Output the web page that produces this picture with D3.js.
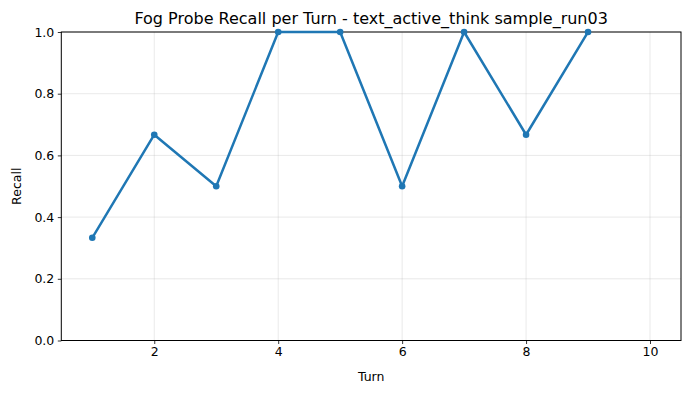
<!DOCTYPE html>
<html>
<head>
<meta charset="utf-8">
<script src="https://cdn.jsdelivr.net/npm/d3@7"></script>
<style>
  body { margin: 0; background: #fff; }
  svg text { font-family: "DejaVu Sans", sans-serif; fill: #000; }
</style>
</head>
<body>
<svg id="chart"></svg>
<script>
// data
const turns = [1, 2, 3, 4, 5, 6, 7, 8, 9];
const recall = [0.333, 0.667, 0.5, 1.0, 1.0, 0.5, 1.0, 0.667, 1.0];
const xTicks = [2, 4, 6, 8, 10];
const yTicks = [0, 0.2, 0.4, 0.6, 0.8, 1.0];

const width = 691, height = 393;
const margin = { top: 32, right: 10, bottom: 52.5, left: 61.3 };
const innerW = width - margin.left - margin.right;
const innerH = height - margin.top - margin.bottom;

const svg = d3.select('#chart').attr('width', width).attr('height', height);
const g = svg.append('g').attr('transform', `translate(${margin.left},${margin.top})`);

const x = d3.scaleLinear().domain([0.5, 10.5]).range([0, innerW]);
const y = d3.scaleLinear().domain([0, 1]).range([innerH, 0]);

// grid
g.append('g').selectAll('line').data(xTicks).join('line')
  .attr('x1', d => x(d)).attr('x2', d => x(d))
  .attr('y1', 0).attr('y2', innerH)
  .attr('stroke', '#b0b0b0').attr('stroke-opacity', 0.35).attr('stroke-width', 0.8);
g.append('g').selectAll('line').data(yTicks).join('line')
  .attr('x1', 0).attr('x2', innerW)
  .attr('y1', d => y(d)).attr('y2', d => y(d))
  .attr('stroke', '#b0b0b0').attr('stroke-opacity', 0.35).attr('stroke-width', 0.8);

// axes
const xAxis = g.append('g').attr('transform', `translate(0,${innerH})`)
  .call(d3.axisBottom(x).tickValues(xTicks).tickSize(3.5).tickPadding(3.5).tickFormat(d3.format('d')));
const yAxis = g.append('g')
  .call(d3.axisLeft(y).tickValues(yTicks).tickSize(3.5).tickPadding(3.5).tickFormat(d3.format('.1f')));
[xAxis, yAxis].forEach(a => {
  a.select('.domain').remove();
  a.selectAll('line').attr('stroke', '#000').attr('stroke-width', 0.8);
  a.selectAll('text').style('font-size', '12.5px').attr('fill', '#000');
});

// frame
g.append('rect').attr('width', innerW).attr('height', innerH)
  .attr('fill', 'none').attr('stroke', '#000').attr('stroke-width', 1);

// line + markers
const pts = turns.map((t, i) => ({ t: t, v: recall[i] }));
g.append('path').datum(pts)
  .attr('fill', 'none').attr('stroke', '#1f77b4').attr('stroke-width', 2.5)
  .attr('stroke-linejoin', 'round').attr('stroke-linecap', 'square')
  .attr('d', d3.line().x(d => x(d.t)).y(d => y(d.v)));
g.append('g').selectAll('circle').data(pts).join('circle')
  .attr('cx', d => x(d.t)).attr('cy', d => y(d.v)).attr('r', 3.3)
  .attr('fill', '#1f77b4');

// titles
svg.append('text').attr('x', margin.left + innerW / 2).attr('y', 24)
  .attr('text-anchor', 'middle').style('font-size', '16px')
  .text('Fog Probe Recall per Turn - text_active_think sample_run03');
svg.append('text').attr('x', margin.left + innerW / 2).attr('y', 381)
  .attr('text-anchor', 'middle').style('font-size', '12.5px').text('Turn');
svg.append('text').attr('transform', `translate(21,${margin.top + innerH / 2}) rotate(-90)`)
  .attr('text-anchor', 'middle').style('font-size', '12.5px').text('Recall');
</script>
</body>
</html>
